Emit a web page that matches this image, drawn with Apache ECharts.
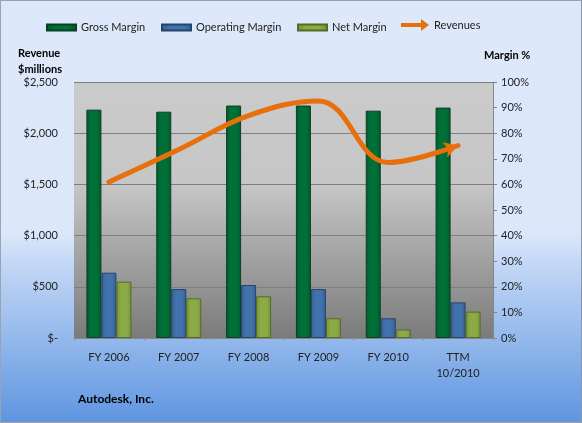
<!DOCTYPE html>
<html><head><meta charset="utf-8">
<script src="https://cdn.jsdelivr.net/npm/echarts@6/dist/echarts.min.js"></script>
<style>html,body{margin:0;padding:0;}#c{width:582px;height:423px;}</style>
</head><body><div id="c"></div>
<script>
const categories = ['FY 2006','FY 2007','FY 2008','FY 2009','FY 2010','TTM\n10/2010'];
const grossMargin = [89.2, 88.4, 90.8, 90.8, 88.8, 90.0];
const operatingMargin = [25.5, 19.1, 20.7, 19.1, 7.7, 13.9];
const netMargin = [22.0, 15.5, 16.3, 7.7, 3.3, 10.3];
const revenues = [1523, 1840, 2172, 2315, 1714, 1880];
const leftTicks = {min:0, max:2500, interval:500};
const rightTicks = {min:0, max:100, interval:10};

const font = 'Lato, "Open Sans", sans-serif';
const chart = echarts.init(document.getElementById('c'));
const revData = revenues.map((v,i)=> i===revenues.length-1 ? {value:v, symbol:'arrow', symbolSize:[12,14], symbolRotate:-72} : v);
const legTxt = {fontSize:11, color:'#222', fontFamily:font};
const barLeg = (name,left)=>({data:[name], left:left, top:17, itemWidth:29, itemHeight:6, icon:'rect', textStyle:legTxt});
chart.setOption({
  backgroundColor: new echarts.graphic.LinearGradient(0,0,0,1,[
    {offset:0,color:'#dde8fa'},{offset:0.55,color:'#dce7fa'},{offset:0.62,color:'#c4d8f6'},{offset:1,color:'#5e95e0'}]),
  textStyle:{fontFamily:font},
  title:[
    {text:'Revenue\n$millions', left:13, top:40, textStyle:{fontSize:11, fontWeight:'bold', color:'#000', lineHeight:16, fontFamily:font}},
    {text:'Margin %', left:479, top:45, textStyle:{fontSize:11, fontWeight:'bold', color:'#000', fontFamily:font}},
    {text:'Autodesk, Inc.', left:73, top:388, textStyle:{fontSize:12, fontWeight:'bold', color:'#000', fontFamily:font}}
  ],
  legend:[
    barLeg('Gross Margin', 41),
    barLeg('Operating Margin', 156),
    barLeg('Net Margin', 292),
    {data:[{name:'Revenues', icon:'path://M0,4 L20,4 L20,0 L28,6 L20,12 L20,8 L0,8 Z'}], left:396, top:14, itemWidth:28, itemHeight:12, textStyle:legTxt}
  ],
  grid:{left:74, right:89, top:82, bottom:85, show:true, borderWidth:0,
    backgroundColor: new echarts.graphic.LinearGradient(0,0,0,1,[
      {offset:0,color:'#cbcbcb'},{offset:0.4,color:'#c6c6c6'},{offset:1,color:'#7b7b7b'}])},
  xAxis:{type:'category', data:categories,
    axisLine:{lineStyle:{color:'#868686'}},
    axisTick:{show:true, lineStyle:{color:'#9a9a9a'}, length:3},
    axisLabel:{fontSize:11, color:'#222', margin:11, lineHeight:16, fontFamily:font}},
  yAxis:[
    {type:'value', ...leftTicks, position:'left',
     axisLine:{show:false},
     axisTick:{show:false},
     splitLine:{lineStyle:{color:'#7f7f7f', width:1}},
     axisLabel:{fontSize:11, color:'#222', margin:16, fontFamily:font,
       formatter:v=> v===0 ? '$-' : '$' + v.toLocaleString('en-US')}},
    {type:'value', ...rightTicks, position:'right',
     axisLine:{show:true, lineStyle:{color:'#868686'}},
     axisTick:{show:true, length:4, lineStyle:{color:'#868686'}},
     splitLine:{show:false},
     axisLabel:{fontSize:11, color:'#222', margin:8, fontFamily:font, formatter:v=>v+'%'}}
  ],
  series:[
    {name:'Gross Margin', type:'bar', yAxisIndex:1, data:grossMargin, barWidth:15, barGap:'0%',
     itemStyle:{color:new echarts.graphic.LinearGradient(0,0,1,0,[{offset:0,color:'#005a2b'},{offset:0.3,color:'#007038'},{offset:0.7,color:'#007038'},{offset:1,color:'#005a2b'}]), borderColor:'#0b3f22', borderWidth:1}},
    {name:'Operating Margin', type:'bar', yAxisIndex:1, data:operatingMargin, barWidth:15, barGap:'0%',
     itemStyle:{color:new echarts.graphic.LinearGradient(0,0,1,0,[{offset:0,color:'#355f91'},{offset:0.3,color:'#4272ab'},{offset:0.7,color:'#4272ab'},{offset:1,color:'#355f91'}]), borderColor:'#24456e', borderWidth:1}},
    {name:'Net Margin', type:'bar', yAxisIndex:1, data:netMargin, barWidth:15, barGap:'0%',
     itemStyle:{color:new echarts.graphic.LinearGradient(0,0,1,0,[{offset:0,color:'#77923a'},{offset:0.3,color:'#8cab46'},{offset:0.7,color:'#8cab46'},{offset:1,color:'#77923a'}]), borderColor:'#566b26', borderWidth:1}},
    {name:'Revenues', type:'line', yAxisIndex:0, data:revData, smooth:0.4, symbol:'none', z:5,
     lineStyle:{color:'#e8700c', width:5, cap:'round'}, itemStyle:{color:'#e8700c'}}
  ]
});
</script>
<div style="position:absolute;left:0;top:0;width:580px;height:421px;border:1px solid #9aa3b3;border-right-color:#8e96a6;pointer-events:none;"></div>
</body></html>
